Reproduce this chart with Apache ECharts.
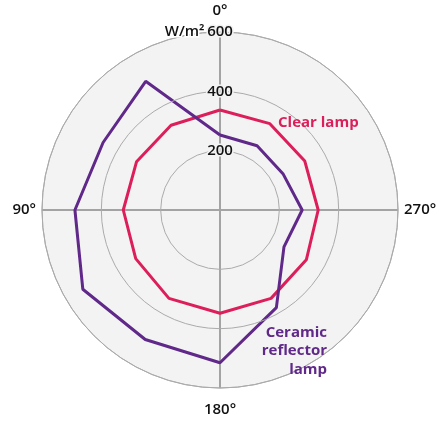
<!DOCTYPE html>
<html><head><meta charset="utf-8">
<script src="https://cdn.jsdelivr.net/npm/echarts@6/dist/echarts.min.js"></script>
<style>html,body{margin:0;padding:0;background:#fff}#c{width:443px;height:421px}</style>
</head><body><div id="c"></div>
<script>
// Directions in degrees (0 at top, increasing counter-clockwise)
const angles = [0, 30, 60, 90, 120, 150, 180, 210, 240, 270, 300, 330];
// Irradiance W/m²
const clearLamp   = [337, 330, 325, 326, 328, 344, 348, 344, 336, 331, 330, 336];
const ceramicLamp = [253, 501, 455, 489, 534, 504, 515, 380, 249, 277, 245, 250];
const radiusTicks = [0, 200, 400, 600];
const angleTickLabels = { 0: '0°', 90: '90°', 180: '180°', 270: '270°' };
const unitLabel = 'W/m²';
const seriesNames = ['Clear lamp', 'Ceramic reflector lamp'];

const RED = '#dc1f5b', PURPLE = '#5f2889';
const FONT = 'Open Sans';
const FW = 600;

function closed(vals) {
  const d = angles.map((a, i) => [vals[i], a]);
  d.push([vals[0], 360]);
  return d;
}

const chart = echarts.init(document.getElementById('c'), null, { renderer: 'canvas' });
const pol = { center: [220, 210], radius: 178 };
chart.setOption({
  animation: false,
  backgroundColor: '#fff',
  polar: [Object.assign({}, pol), Object.assign({}, pol)],
  angleAxis: [{
    polarIndex: 0, type: 'value', min: 0, max: 360, interval: 30,
    startAngle: 90, clockwise: false, z: 0,
    axisLine: { show: true, lineStyle: { color: '#a9a9a9', width: 1 } },
    axisTick: { show: false },
    splitLine: { show: true, lineStyle: { color: '#ababab', width: 1 } },
    splitArea: { show: true, areaStyle: { color: ['#f3f3f3'] } },
    axisLabel: {
      margin: 6,
      formatter: v => {
        const t = angleTickLabels[v];
        if (!t) return '';
        return (v === 0 || v === 180) ? '{tb|' + t + '}' : '{lr|' + t + '}';
      },
      rich: {
        tb: { fontFamily: FONT, fontSize: 15, fontWeight: FW, color: '#111', padding: [8, 0, 8, 0] },
        lr: { fontFamily: FONT, fontSize: 15, fontWeight: FW, color: '#111' }
      }
    }
  }, {
    polarIndex: 1, type: 'value', min: 0, max: 360, interval: 90,
    startAngle: 90, clockwise: false, z: 1,
    axisLine: { show: false }, axisTick: { show: false }, axisLabel: { show: false },
    splitLine: { show: true, lineStyle: { color: '#a3a3a3', width: 2 } },
    splitArea: { show: false }
  }],
  radiusAxis: [{
    polarIndex: 0, type: 'value', min: 0, max: 600, interval: 200, z: 5,
    axisLine: { show: false }, axisTick: { show: false },
    splitLine: { show: true, lineStyle: { color: '#ababab', width: 1 } },
    axisLabel: {
      margin: 0, align: 'center', verticalAlign: 'middle',
      fontFamily: FONT, fontSize: 15, fontWeight: FW, color: '#111',
      textBorderColor: '#f3f3f3', textBorderWidth: 3,
      formatter: v => {
        if (v === radiusTicks[0]) return '';
        if (v === radiusTicks[radiusTicks.length - 1]) return '{u|' + unitLabel + '}{n|' + v + '}{p|}';
        return '{n|' + v + '}';
      },
      rich: {
        u: { width: 45, fontFamily: FONT, fontSize: 15, fontWeight: FW, color: '#111', textBorderColor: '#fff', textBorderWidth: 3 },
        n: { fontFamily: FONT, fontSize: 15, fontWeight: FW, color: '#111', textBorderColor: '#f3f3f3', textBorderWidth: 3 },
        p: { width: 45 }
      }
    }
  }, {
    polarIndex: 1, type: 'value', min: 0, max: 600, show: false
  }],
  series: [{
    name: seriesNames[0], type: 'line', coordinateSystem: 'polar', polarIndex: 0,
    data: closed(clearLamp), symbol: 'none', z: 3,
    lineStyle: { color: RED, width: 3 }
  }, {
    name: seriesNames[1], type: 'line', coordinateSystem: 'polar', polarIndex: 0,
    data: closed(ceramicLamp), symbol: 'none', z: 3,
    lineStyle: { color: PURPLE, width: 3 }
  }],
  graphic: [{
    type: 'text', left: 278, top: 115, z: 10,
    style: { text: seriesNames[0], fill: RED, font: 'bold 15px "Open Sans"' }
  }, {
    type: 'text', right: 443 - 327, top: 323, z: 10,
    style: { text: 'Ceramic\nreflector\nlamp', fill: PURPLE, font: 'bold 15px "Open Sans"', textAlign: 'right', lineHeight: 18.5 }
  }]
});
</script></body></html>
